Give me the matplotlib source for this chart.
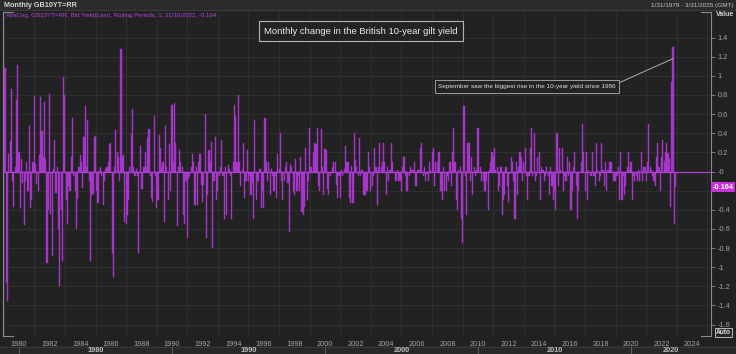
import numpy as np
import matplotlib.pyplot as plt
from matplotlib.lines import Line2D
from matplotlib.patches import Rectangle

plt.rcParams['font.family'] = ['Liberation Sans', 'DejaVu Sans']

# monthly change of GB10YT=RR yield, month-end, starting Jan 1979
start_year = 1979
chg_1979_1989 = [
    1.08, -1.17, -1.35, 0.18, 0.32, 0.86, -0.10, -0.37, 0.05, 0.75, 1.11, 0.20,
    -0.38, 0.13, -0.12, -0.56, -0.10, 0.10, -0.20, 0.48, -0.38, -0.30, 0.10, 0.79,
    0.08, -0.13, -0.20, 0.17, 0.78, 0.42, 0.15, 0.73, 0.13, -0.96, -0.40, 0.81,
    -0.44, -0.88, 0.03, 0.33, -0.22, 0.05, -0.60, -1.20, -0.40, -0.93, 0.99, 0.80,
    -0.30, -0.55, -0.15, -0.20, 0.15, 0.56, -0.05, -0.20, -0.60, -0.29, 0.05, 0.17,
    0.10, -0.17, 0.36, 0.68, 0.05, 0.54, -0.10, -0.93, -0.26, -0.24, 0.36, 0.37,
    -0.20, -0.33, 0.02, 0.05, -0.05, -0.35, -0.10, 0.03, 0.05, 0.10, 0.29, 0.30,
    -0.85, -1.10, 0.05, 0.43, 0.20, 0.15, -0.10, 1.28, 0.15, 0.17, -0.53, -0.55,
    -0.45, -0.30, 0.05, 0.39, 0.65, 0.05, -0.05, 0.03, -0.05, -0.85, 0.27, -0.18,
    -0.18, 0.05, 0.20, 0.05, 0.35, 0.44, -0.05, -0.28, -0.32, 0.58, -0.05, -0.38,
    -0.30, 0.38, 0.25, 0.05, 0.10, -0.53, 0.48, 0.05, -0.30, 0.29, -0.20, 0.70,
]
chg_1990_1999 = [
    0.10, 0.72, 0.30, -0.57, 0.05, 0.22, 0.10, 0.05, -0.45, -0.55, -0.10, -0.70,
    -0.08, -0.05, 0.05, 0.18, 0.10, -0.35, 0.05, -0.35, 0.10, 0.18, -0.14, -0.32,
    -0.14, 0.60, -0.70, -0.25, 0.23, 0.10, 0.31, -0.80, -0.10, 0.36, -0.30, -0.20,
    -0.05, 0.05, 0.33, -0.05, -0.50, 0.05, -0.45, 0.07, 0.03, -0.05, -0.50, 0.10,
    0.70, 0.58, 0.10, 0.80, 0.10, -0.15, 0.02, 0.30, -0.28, -0.10, 0.22, -0.10,
    -0.05, -0.25, -0.12, -0.50, 0.54, -0.30, -0.10, -0.10, 0.03, -0.38, -0.20, -0.38,
    0.56, 0.10, -0.10, 0.10, -0.25, 0.03, -0.05, -0.20, -0.05, -0.28, 0.18, 0.03,
    0.40, -0.10, -0.30, -0.10, 0.05, 0.10, -0.12, -0.63, 0.08, 0.05, -0.20, -0.25,
    0.13, -0.20, -0.05, -0.20, 0.15, -0.42, -0.45, -0.37, 0.25, -0.30, -0.10, 0.45,
    0.05, -0.02, 0.20, 0.30, 0.29, 0.45, -0.15, -0.20, 0.44, 0.05, -0.25, 0.24,
]
chg_2000_2009 = [
    0.23, -0.18, -0.25, -0.05, -0.02, 0.05, 0.10, 0.10, -0.14, -0.28, -0.05, -0.28,
    0.02, -0.05, 0.03, 0.27, 0.10, 0.10, -0.28, -0.33, 0.06, -0.33, 0.40, 0.12,
    0.05, -0.05, 0.35, -0.05, 0.02, -0.25, -0.25, -0.25, -0.20, 0.20, 0.05, -0.20,
    -0.15, -0.05, 0.25, 0.05, -0.35, 0.05, 0.30, 0.05, 0.10, 0.30, 0.10, -0.25,
    0.05, -0.10, 0.02, 0.30, 0.10, -0.02, -0.10, -0.10, 0.02, -0.10, -0.10, -0.20,
    0.05, 0.15, -0.05, -0.20, -0.20, -0.05, 0.05, 0.02, 0.02, 0.10, -0.15, -0.15,
    0.02, 0.02, 0.25, 0.30, -0.05, 0.05, -0.10, -0.03, -0.10, 0.10, 0.02, 0.20,
    0.25, -0.15, 0.10, 0.10, 0.20, 0.20, -0.20, -0.30, 0.05, -0.20, -0.20, -0.05,
    -0.10, 0.10, -0.15, 0.20, 0.45, 0.10, -0.30, -0.40, 0.02, 0.05, -0.50, -0.75,
    0.68, -0.05, -0.45, 0.30, 0.30, -0.10, 0.15, -0.25, 0.05, -0.05, 0.02, 0.45,
]
chg_2010_2022 = [
    0.00, 0.05, -0.10, -0.10, -0.20, -0.20, -0.10, -0.40, 0.02, 0.10, 0.20, 0.15,
    0.25, 0.02, 0.05, -0.20, -0.15, 0.05, -0.45, -0.30, -0.25, 0.05, -0.15, -0.32,
    -0.03, 0.15, 0.10, -0.10, -0.50, 0.10, -0.25, 0.05, 0.20, 0.15, -0.10, 0.10,
    0.25, -0.05, -0.30, -0.05, 0.25, 0.45, -0.05, 0.40, -0.10, -0.05, 0.15, 0.20,
    -0.30, 0.05, 0.02, -0.10, -0.05, 0.05, -0.05, -0.25, 0.05, -0.15, -0.30, -0.20,
    -0.40, 0.40, -0.15, 0.25, 0.02, 0.25, -0.20, -0.05, -0.10, 0.15, -0.05, 0.10,
    -0.40, -0.20, 0.05, 0.20, -0.15, -0.50, -0.20, -0.02, 0.10, 0.50, 0.20, -0.20,
    0.20, -0.30, 0.02, -0.05, -0.05, 0.20, -0.05, -0.15, 0.30, 0.02, -0.10, -0.05,
    0.30, 0.02, -0.15, 0.10, -0.20, 0.02, 0.10, 0.10, 0.10, -0.10, -0.10, -0.10,
    -0.05, 0.05, -0.30, 0.20, -0.30, -0.05, -0.25, -0.15, 0.05, 0.20, 0.02, 0.10,
    -0.30, -0.05, -0.10, -0.05, -0.10, 0.02, -0.10, 0.20, -0.10, 0.05, 0.05, -0.10,
    0.10, 0.50, 0.05, 0.02, -0.05, -0.10, -0.15, 0.15, 0.30, 0.05, -0.20, 0.15,
    0.33, 0.11, 0.20, 0.30, 0.19, 0.13, -0.37, 0.94, 1.30, -0.55, -0.164,
]
decades = [1980, 1990, 2000, 2010, 2020]
last_value = -0.164

changes = np.array(chg_1979_1989 + chg_1990_1999 + chg_2000_2009 + chg_2010_2022)
xpos = start_year + (np.arange(len(changes)) + 1) / 12

W, H = 736, 354
def fx(px):
    return px / W
def fy(py):
    return 1 - py / H

bar_color = '#a536c9'
txt_grey = '#a3a3a3'
x_left, x_right = 1978.954, 2025.23

fig = plt.figure(figsize=(7.36, 3.54), dpi=100, facecolor='#212121')
ax = fig.add_axes([fx(3), 18 / H, 708 / W, 324 / H], facecolor='#222222')

# header and footer strips
fig.patches.append(Rectangle((0, fy(10)), 1, 10 / H, transform=fig.transFigure,
                             fc='#2b2b2b', ec='none', zorder=0))
fig.lines.append(Line2D([0, 1], [fy(10), fy(10)], transform=fig.transFigure,
                        color='#3c3c3c', lw=0.8))
fig.patches.append(Rectangle((0, 0), 1, 8 / H, transform=fig.transFigure,
                             fc='#282828', ec='none', zorder=0))
fig.lines.append(Line2D([0, 1], [fy(346.5), fy(346.5)], transform=fig.transFigure,
                        color='#3a3a3a', lw=0.7))

ax.bar(xpos, changes, width=0.075, color=bar_color, edgecolor=bar_color,
       linewidth=0.3, zorder=3)
ax.axhline(0, color='#b03ed8', lw=0.9, zorder=4)

ax.set_xlim(x_left, x_right)
ax.set_ylim(-1.719, 1.667)

yt = np.round(np.arange(-1.6, 1.41, 0.2), 1)
ax.set_yticks(yt)
# the -0.2 label sits under the last-value box
ax.set_yticklabels(['' if v == -0.2 else f'{v:g}' for v in yt])
ax.yaxis.tick_right()
ax.tick_params(axis='y', colors='#8a8a8a', labelcolor=txt_grey, labelsize=5.3,
               length=3, width=0.6, pad=1.5)

ax.set_xticks(np.arange(1980, 2025, 2))
ax.set_xticks(np.arange(1979, 2026), minor=True)
ax.tick_params(axis='x', which='both', length=0, labelcolor=txt_grey,
               labelsize=5.3, pad=3.5)

ax.grid(axis='x', which='minor', color='#2f2f2f', lw=0.8)
ax.grid(axis='y', which='major', color='#2f2f2f', lw=0.8)
ax.set_axisbelow(True)

for s in ['top', 'bottom']:
    ax.spines[s].set_visible(False)
for s in ['left', 'right']:
    ax.spines[s].set_color('#8c8c8c')
    ax.spines[s].set_linewidth(0.8)

# corner brackets
for x0, x1 in [(3, 13), (701, 711)]:
    for yy in [12, 336]:
        fig.lines.append(Line2D([fx(x0), fx(x1)], [fy(yy), fy(yy)],
                                transform=fig.transFigure, color='#8c8c8c', lw=0.8))

# decade row
for d in decades:
    px = 19 + 15.3 * (d - 1980)
    fig.lines.append(Line2D([fx(px), fx(px)], [fy(347), 0], transform=fig.transFigure,
                            color='#5a5a5a', lw=0.8))
    end = min(px + 153, 711)
    fig.text(fx((px + end) / 2), fy(350.5), str(d), ha='center', va='center',
             fontsize=5.3, fontweight='bold', color='#bdbdbd')

# header texts
fig.text(fx(4), fy(5.5), 'Monthly GB10YT=RR', fontsize=5.2, fontweight='bold',
         color='#d4d4d4', va='center')
fig.text(fx(734), fy(6), '1/31/1979 - 3/31/2025 (GMT)', fontsize=4.6,
         color='#c4c4c4', va='center', ha='right')
fig.text(fx(716), fy(15), 'Value', fontsize=5, fontweight='bold',
         color='#d4d4d4', va='center')
fig.text(fx(6), fy(16), 'AbsCng, GB10YT=RR, Bid Yield(Last), Rolling Periods, 1, '
         '11/30/2022, -0.164', fontsize=4.4, color='#b046e0', va='center')

fig.text(fx(361), fy(31), 'Monthly change in the British 10-year gilt yield',
         ha='center', va='center', fontsize=6.8, color='#ececec',
         bbox=dict(boxstyle='square,pad=0.6', fc='#232323', ec='#b4b4b4', lw=0.8))

ax.annotate('September saw the biggest rise in the 10-year yield since 1986',
            xy=(xpos[-3], 1.18), xytext=(fx(527), fy(86.5)),
            textcoords='figure fraction', ha='center', va='center',
            fontsize=4.6, color='#dedede',
            bbox=dict(boxstyle='square,pad=0.55', fc='#232323', ec='#9c9c9c', lw=0.7),
            arrowprops=dict(arrowstyle='-', color='#b0b0b0', lw=0.7,
                            shrinkA=0, shrinkB=0, relpos=(1.0, 0.95)),
            zorder=6)

ax.text(1.002, last_value, '-0.164', transform=ax.get_yaxis_transform(),
        ha='left', va='center', fontsize=5.3, fontweight='bold', color='white',
        bbox=dict(boxstyle='square,pad=0.2', fc='#c832dc', ec='none'),
        clip_on=False, zorder=7)

fig.text(fx(723.5), fy(332.5), 'Auto', ha='center', va='center', fontsize=4.8,
         fontweight='bold', color='#dcdcdc',
         bbox=dict(boxstyle='square,pad=0.15', fc='#2a2a2a', ec='#b8b8b8', lw=0.7))

fig.savefig('out.png', dpi=100, facecolor=fig.get_facecolor())
